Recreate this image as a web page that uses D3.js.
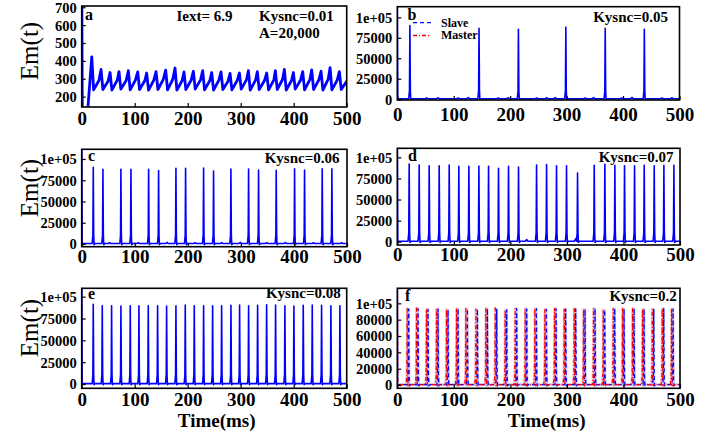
<!DOCTYPE html>
<html><head><meta charset="utf-8">
<script src="https://cdn.jsdelivr.net/npm/d3@7"></script>
<style>
body{margin:0;background:#fff}
svg{display:block}
text{font-family:"Liberation Serif","Times New Roman",serif}
</style>
</head><body>
<svg id="chart" width="711" height="433"></svg>
<script>
// ---------------- DATA ----------------
const xTicks = [0, 100, 200, 300, 400, 500];
const xTickLabels = ["0", "100", "200", "300", "400", "500"];
const yTicksA = [200, 300, 400, 500, 600, 700];
const yTickLabelsA = ["200", "300", "400", "500", "600", "700"];
const yTicks25 = [0, 25000, 50000, 75000, 100000];
const yTickLabels25 = ["0", "25000", "50000", "75000", "1e+05"];
const yTicks20 = [0, 20000, 40000, 60000, 80000, 100000];
const yTickLabels20 = ["0", "20000", "40000", "60000", "80000", "1e+05"];

// panel a (Kysnc=0.01): sawtooth oscillation
const aInitT = [0, 1.2, 11];
const aInitV = [900, 100, 110];
const aPeakT = [19, 36.5, 53.5, 70.4, 88, 105.7, 122.6, 140.3, 158.5, 176.1, 193, 210.7, 228.3, 245.3,
  262.9, 279.9, 297.5, 314.5, 331.4, 349.1, 365.4, 382.4, 399.4, 417, 434, 451.6, 468.6, 486.2];
const aPeakV = [422, 352, 335, 340, 345, 338, 332, 340, 348, 360, 338, 342, 345, 335,
  338, 330, 332, 345, 340, 332, 345, 352, 335, 340, 350, 342, 362, 340];
const aTroughV = [238, 240, 236, 242, 238, 240, 236, 240, 238, 236, 240, 242, 238, 236,
  240, 238, 242, 236, 240, 238, 240, 236, 242, 238, 240, 236, 238, 240];
const aMidV = [290, 288, 292, 290, 294, 290, 292, 295, 298, 290, 292, 294, 290, 292,
  288, 290, 295, 292, 290, 294, 296, 290, 292, 295, 294, 298, 292, 285];

// panel b (Kysnc=0.05)
const bSpikeT = [22.5, 145, 214.8, 298.8, 368.6, 437.9];
const bSpikeV = [90000, 86600, 85400, 87800, 86600, 85400];
const bBumpT = [52, 72.8, 108, 126, 179, 197, 247, 265, 280, 333, 348, 398, 416, 469, 487];
const bBumpV = [1500, 1800, 1500, 2000, 1500, 1800, 1500, 1800, 2000, 1500, 2000, 1500, 2200, 1500, 1800];

// panel c (Kysnc=0.06)
const cSpikeT = [22, 40.2, 74.1, 93, 126.3, 145.1, 177.8, 196, 229.9, 248.7, 281.4, 314.7, 333.5, 366.8, 401.4, 420.2, 453.5, 471.7];
const cSpikeV = [90200, 87800, 87800, 87800, 87800, 86300, 89000, 89000, 89400, 85900, 88200, 88200, 87000, 86700, 88600, 87000, 88600, 88600];
const cBumpT = [53, 107, 161, 214, 264, 299, 349, 384, 437, 490];
const cBumpV = [1500, 1500, 1800, 1500, 1500, 1800, 1500, 1800, 1500, 1500];

// panel d (Kysnc=0.07)
const dSpikeT = [21.2, 38.9, 56.6, 74.3, 92, 109, 126.8, 144.5, 161.6, 179.2, 196.9, 214.6, 246.5,
  264.2, 281.8, 299.5, 319, 348.5, 367.3, 385, 402.1, 419.8, 436.9, 454.6, 471.7, 489.4];
const dSpikeV = [92100, 90900, 90100, 90100, 90900, 89300, 89300, 89700, 89300, 87000, 89300, 88500, 90900,
  91300, 90100, 90100, 81400, 90500, 91700, 90500, 90100, 90100, 90500, 90100, 90500, 90500];
const dBumpT = [229, 316];
const dBumpV = [2500, 4000];

// panel e (Kysnc=0.08)
const eSpikeT = [22, 39, 56.6, 74.2, 91.8, 108.2, 125.8, 143.4, 160.4, 178, 195.6, 212.6, 230.2, 247.2,
  264.2, 281.8, 298.1, 315.1, 332.1, 349.1, 366, 383.6, 400.6, 418.2, 435.2, 452.8, 470.4, 487.4];
const eSpikeV = [91200, 89700, 89700, 89300, 89700, 89700, 89700, 89700, 89300, 89700, 90500, 89700, 89700, 89700,
  89700, 90100, 90500, 89700, 90100, 90800, 90500, 89700, 89300, 90100, 90500, 90100, 89700, 89700];

// panel f (Kysnc=0.2): master and slave
const fMasterT = [17.7, 34.2, 51.9, 69.6, 87.3, 105, 121.5, 139.2, 156.9, 173.4, 191, 208.7, 226.4, 243.5,
  261.2, 278.3, 295.4, 313.1, 329.6, 347.3, 364.4, 382.1, 398.6, 416.3, 434, 451.1, 468.8, 485.3];
const fMasterV = [93500, 94000, 92700, 92700, 92700, 93500, 93500, 92700, 93500, 94300, 91800, 93500, 93500, 93500,
  92700, 93500, 92700, 93500, 92700, 93500, 91800, 93500, 93500, 93500, 92700, 92700, 93500, 93500];
const fSlaveT = [20.3, 36.8, 54.5, 72.2, 89.9, 107.6, 124.1, 141.8, 159.5, 176, 193.6, 211.3, 229, 246.1,
  263.8, 280.9, 298, 315.7, 332.2, 349.9, 367, 384.7, 401.2, 418.9, 436.6, 453.7, 471.4, 487.9];
const fSlaveV = [93000, 93500, 92500, 93000, 92000, 93500, 93000, 92500, 93500, 93000, 92000, 93500, 93000, 93500,
  92500, 93500, 93000, 93000, 92500, 93500, 92000, 93500, 93000, 93500, 93000, 92500, 93500, 93000];

// ---------------- BUILDERS ----------------
function sawtooth() {
  const pts = aInitT.map((t, i) => [t, aInitV[i]]);
  aPeakT.forEach((t, i) => {
    pts.push([t, aPeakV[i]]);
    pts.push([t + 3.5, aTroughV[i]]);
    pts.push([Math.min(t + 13.5, 500), aMidV[i]]);
  });
  pts.push([500, 285]);
  return pts;
}
function spikeTrain(T, V, BT, BV, startV) {
  const base = 500;
  const ev = [];
  T.forEach((t, i) => ev.push({t, v: V[i], s: true}));
  (BT || []).forEach((t, i) => ev.push({t, v: BV[i], s: false}));
  ev.sort((a, b) => a.t - b.t);
  const pts = [[0, startV], [0.8, base]];
  ev.forEach(e => {
    if (e.s) {
      pts.push([e.t - 2.2, base], [e.t - 0.9, e.v * 0.12], [e.t - 0.2, e.v],
               [e.t + 0.6, e.v * 0.12], [e.t + 1.3, -800], [e.t + 3, base]);
    } else {
      pts.push([e.t - 3, base], [e.t, e.v], [e.t + 2, base]);
    }
  });
  pts.push([500, base]);
  return pts;
}

// ---------------- LAYOUT ----------------
const svg = d3.select("#chart");
const panels = [
  {id: "a", x0: 81.7, x1: 346.7, y0: 6, y1: 107, dom: [142, 707], yt: yTicksA, yl: yTickLabelsA, xlb: 17.5},
  {id: "b", x0: 397.3, x1: 679.5, y0: 6.7, y1: 100, dom: [-1000, 113000], yt: yTicks25, yl: yTickLabels25, xlb: 21},
  {id: "c", x0: 81.7, x1: 347, y0: 149.3, y1: 246.7, dom: [-3200, 111400], yt: yTicks25, yl: yTickLabels25, xlb: 16.5},
  {id: "d", x0: 397.3, x1: 680, y0: 148.3, y1: 245, dom: [-3900, 110700], yt: yTicks25, yl: yTickLabels25, xlb: 15.5},
  {id: "e", x0: 81.7, x1: 346.7, y0: 288.3, y1: 388.3, dom: [-4900, 109600], yt: yTicks25, yl: yTickLabels25, xlb: 18},
  {id: "f", x0: 397.3, x1: 680, y0: 288.3, y1: 388.3, dom: [-4000, 118400], yt: yTicks20, yl: yTickLabels20, xlb: 18}
];

const series = {
  a: [{pts: sawtooth(), color: "#0000ff", w: 2.8}],
  b: [{pts: spikeTrain(bSpikeT, bSpikeV, bBumpT, bBumpV, 130000), color: "#0000ff", w: 1.6}],
  c: [{pts: spikeTrain(cSpikeT, cSpikeV, cBumpT, cBumpV, 130000), color: "#0000ff", w: 1.6}],
  d: [{pts: spikeTrain(dSpikeT, dSpikeV, dBumpT, dBumpV, 130000), color: "#0000ff", w: 1.6}],
  e: [{pts: spikeTrain(eSpikeT, eSpikeV, [], [], 130000), color: "#0000ff", w: 1.6}],
  f: [
    {pts: spikeTrain(fMasterT, fMasterV, [], [], 130000), color: "#f9c4c4", w: 2.6},
    {pts: spikeTrain(fSlaveT, fSlaveV, [], [], 130000), color: "#c6c6f8", w: 2.4},
    {pts: spikeTrain(fSlaveT, fSlaveV, [], [], 130000), color: "#0000ff", w: 1.3, dash: "4,3"},
    {pts: spikeTrain(fMasterT, fMasterV, [], [], 130000), color: "#ff0000", w: 1.3, dash: "4,2,1,2"}
  ]
};

panels.forEach(p => {
  const x = d3.scaleLinear().domain([0, 500]).range([p.x0, p.x1]);
  const y = d3.scaleLinear().domain(p.dom).range([p.y1, p.y0]);
  const g = svg.append("g");
  const clipId = "clip-" + p.id;
  g.append("clipPath").attr("id", clipId).append("rect")
    .attr("x", p.x0).attr("y", p.y0).attr("width", p.x1 - p.x0).attr("height", p.y1 - p.y0);

  const line = d3.line().x(d => x(d[0])).y(d => y(d[1]));
  const lg = g.append("g").attr("clip-path", `url(#${clipId})`);
  series[p.id].forEach(s => {
    lg.append("path").attr("d", line(s.pts)).attr("fill", "none")
      .attr("stroke", s.color).attr("stroke-width", s.w)
      .attr("stroke-linejoin", "round")
      .attr("stroke-dasharray", s.dash || null);
  });

  // axes
  const xa = g.append("g").attr("transform", `translate(0,${p.y1})`)
    .call(d3.axisBottom(x).tickValues(xTicks).tickFormat((d, i) => xTickLabels[i]).tickSizeInner(-4).tickSizeOuter(0));
  xa.select(".domain").remove();
  xa.selectAll("line").attr("stroke", "#000").attr("stroke-width", 1.2);
  xa.selectAll("text").attr("y", p.xlb).attr("dy", null)
    .attr("font-size", 19).attr("font-weight", "bold").attr("fill", "#000")
    .style("font-family", '"Liberation Serif","Times New Roman",serif');

  const ya = g.append("g").attr("transform", `translate(${p.x0},0)`)
    .call(d3.axisLeft(y).tickValues(p.yt).tickFormat((d, i) => p.yl[i]).tickSizeInner(-4).tickSizeOuter(0));
  ya.select(".domain").remove();
  ya.selectAll("line").attr("stroke", "#000").attr("stroke-width", 1.2);
  ya.selectAll("text").attr("x", -5).attr("dy", "0.34em")
    .attr("font-size", 14.5).attr("font-weight", "bold").attr("fill", "#000")
    .style("font-family", '"Liberation Serif","Times New Roman",serif');

  // frame
  g.append("rect").attr("x", p.x0).attr("y", p.y0)
    .attr("width", p.x1 - p.x0).attr("height", p.y1 - p.y0)
    .attr("fill", "none").attr("stroke", "#000").attr("stroke-width", 1.6);
});

// panel letters
const letters = [["a", 85, 20], ["b", 407.5, 20], ["c", 88, 161], ["d", 408, 161], ["e", 88, 299], ["f", 405, 300.5]];
letters.forEach(l => svg.append("text").attr("x", l[1]).attr("y", l[2]).text(l[0])
  .attr("font-size", 16).attr("font-weight", "bold"));

// annotations
const notes = [
  ["Iext= 6.9", 176.5, 20.7, "start"],
  ["Kysnc=0.01", 259, 20.7, "start"],
  ["A=20,000", 259, 38.3, "start"],
  ["Kysnc=0.05", 668, 21.7, "end"],
  ["Kysnc=0.06", 339.5, 162.7, "end"],
  ["Kysnc=0.07", 673.5, 161.7, "end"],
  ["Kysnc=0.08", 340.7, 298.3, "end"],
  ["Kysnc=0.2", 676.7, 300.7, "end"]
];
notes.forEach(n => svg.append("text").attr("x", n[1]).attr("y", n[2]).attr("text-anchor", n[3])
  .text(n[0]).attr("font-size", 15).attr("font-weight", "bold"));

// y labels
[51, 188, 328].forEach(cy => svg.append("text")
  .attr("transform", `translate(29,${cy}) rotate(-90)`)
  .attr("text-anchor", "middle").attr("dominant-baseline", "central")
  .attr("font-size", 25).text("Em(t)"));

// x labels
[216.7, 546.7].forEach(cx => svg.append("text").attr("x", cx).attr("y", 427)
  .attr("text-anchor", "middle").attr("font-size", 19).attr("font-weight", "bold").text("Time(ms)"));

// legend in panel b
const legend = [
  {label: "Slave", color: "#0000ff", dash: "4,3", y: 22.7, ty: 26.7},
  {label: "Master", color: "#ff0000", dash: "4,2,1,2", y: 35.5, ty: 39.3}
];
legend.forEach(l => {
  svg.append("line").attr("x1", 413).attr("x2", 431).attr("y1", l.y).attr("y2", l.y)
    .attr("stroke", l.color).attr("stroke-width", 1.3).attr("stroke-dasharray", l.dash);
  svg.append("text").attr("x", 441).attr("y", l.ty).text(l.label)
    .attr("font-size", 12).attr("font-weight", "bold");
});
</script>
</body></html>
